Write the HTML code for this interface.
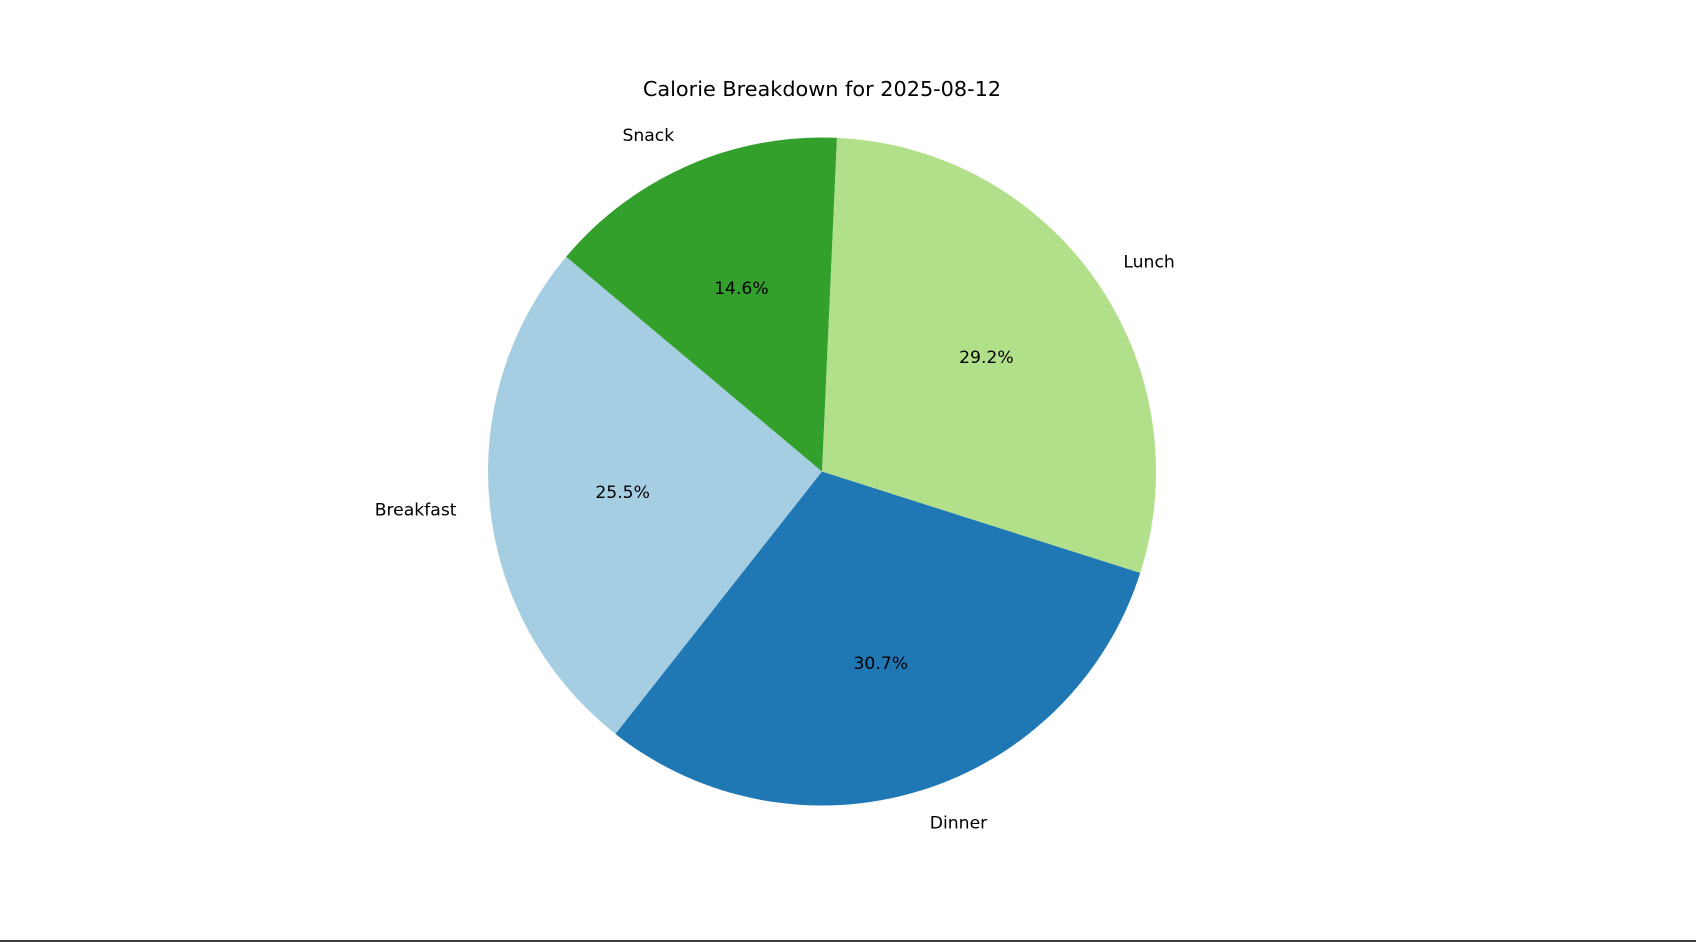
<!DOCTYPE html>
<html><head><meta charset="utf-8"><style>
html,body{margin:0;padding:0;background:#fff;}
svg{display:block;font-family:"DejaVu Sans","Liberation Sans",sans-serif;}
</style></head><body>
<svg id="chart" width="1696" height="942" viewBox="0 0 1696 942">
<text x="822" y="96" text-anchor="middle" font-size="20.8" fill="#000">Calorie Breakdown for 2025-08-12</text>
<g id="slices"></g>
<line x1="0" y1="941" x2="1696" y2="941" stroke="#000" stroke-width="1.5"/>
</svg>
<script>
const categories = ["Breakfast","Dinner","Lunch","Snack"];
const values = [25.5,30.7,29.2,14.6];
const colors = ["#a6cee3","#1f78b4","#b2df8a","#33a02c"];
const startAngle = 140;
const cx=822, cy=471.5, r=334;
const g=document.getElementById('slices');
const NS="http://www.w3.org/2000/svg";
const total=values.reduce((a,b)=>a+b,0);
function pt(deg,rad){const a=deg*Math.PI/180;return [cx+rad*Math.cos(a), cy-rad*Math.sin(a)];}
let ang=startAngle;
values.forEach((v,i)=>{
  const span=v/total*360;
  const a0=ang, a1=ang+span;
  const [x0,y0]=pt(a0,r),[x1,y1]=pt(a1,r);
  const p=document.createElementNS(NS,'path');
  p.setAttribute('d',`M${cx},${cy} L${x0},${y0} A${r},${r} 0 ${span>180?1:0} 0 ${x1},${y1} Z`);
  p.setAttribute('fill',colors[i]);
  
  
  g.appendChild(p);
  const mid=(a0+a1)/2;
  const [lx,ly]=pt(mid,r*1.1);
  const t=document.createElementNS(NS,'text');
  t.setAttribute('x',lx);t.setAttribute('y',ly+6);
  t.setAttribute('font-size','17.2');
  t.setAttribute('text-anchor',lx>=cx?'start':'end');
  t.textContent=categories[i];
  
  
  g.appendChild(t);
  const [px,py]=pt(mid,r*0.6);
  const q=document.createElementNS(NS,'text');
  q.setAttribute('x',px);q.setAttribute('y',py+6);
  q.setAttribute('font-size','17.2');
  q.setAttribute('text-anchor','middle');
  q.textContent=(v/total*100).toFixed(1)+'%';
  
  
  g.appendChild(q);
  ang=a1;
});
</script>
</body></html>
